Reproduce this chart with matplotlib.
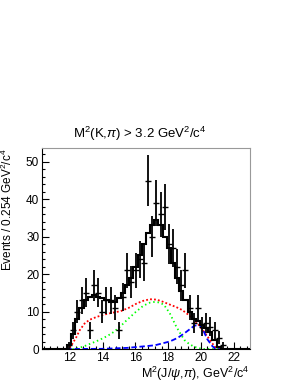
import numpy as np
import matplotlib
matplotlib.use("Agg")
import matplotlib.pyplot as plt
from matplotlib.ticker import MultipleLocator

plt.rcParams["font.family"] = ["Liberation Sans", "DejaVu Sans"]
plt.rcParams["mathtext.fontset"] = "custom"
plt.rcParams["mathtext.rm"] = "Liberation Sans"
plt.rcParams["mathtext.it"] = "Liberation Sans:italic"

# binning: 50 bins of 0.254 GeV^2/c^4 starting at 10.3
x_lo = 10.3
bin_w = 0.254
n_bins = 50

# data counts per bin
counts = [0, 0, 0, 0, 0, 0, 1, 5, 10, 13,
          15, 5, 17, 15, 10, 13, 13, 11, 5, 14,
          21, 18, 21, 24, 23, 45, 30, 39, 36, 38,
          28, 27, 22, 17, 21, 11, 7, 11, 6, 7,
          6, 5, 3, 1, 0, 0, 0, 0, 0, 0]

# total fit, per bin
fit_total = [0, 0, 0, 0, 0, 0, 1, 4, 8, 11,
             13, 14, 14.5, 14, 13.5, 13, 12.5, 12.5, 13.5, 15,
             17, 19, 22, 25, 28, 31, 33, 34.5, 33, 30,
             27, 23, 19, 15.5, 13, 10, 8, 7.5, 6.5, 5.5,
             4.5, 2.5, 0.5, 0, 0, 0, 0, 0, 0, 0]

# fit components
red_x = [10.3, 11.9, 12.1, 12.4, 12.6, 12.9, 13.2, 13.65, 14.2, 14.6, 15.1, 15.6, 16.1, 16.5,
         16.9, 17.3, 17.7, 18.15, 18.5, 18.87, 19.2, 19.6, 19.9, 20.2, 20.5, 20.7, 20.9, 21.0, 23.0]
red_y = [0, 0, 1, 3.2, 5, 6.8, 7.8, 8.6, 9.3, 9.7, 10.1, 11, 12.2, 12.9,
         13.3, 13.2, 12.6, 11.8, 11.2, 10.4, 9.3, 7.8, 6.3, 4.6, 2.8, 1.5, 0.5, 0, 0]

green_x = [10.3, 12.3, 12.8, 13.3, 13.8, 14.3, 14.7, 15.1, 15.5, 16.0, 16.5, 16.9, 17.2, 17.5,
           17.75, 18.1, 18.5, 18.8, 19.0, 19.3, 19.6, 19.9, 20.2, 23.0]
green_y = [0, 0, 0.6, 1.5, 2.4, 3.5, 4.6, 6.1, 7.8, 9.8, 11.6, 12.4, 12.6, 12.4,
           11.8, 9.6, 6.0, 3.8, 2.4, 1.3, 0.6, 0.2, 0, 0]

blue_x = [10.3, 12.0, 14.0, 15.5, 16.5, 17.2, 18.1, 18.6, 19.0, 19.3, 19.6, 19.9, 20.1,
          20.4, 20.7, 20.9, 23.0]
blue_y = [0, 0, 0.05, 0.3, 0.7, 1.0, 2.0, 3.0, 4.2, 5.2, 6.2, 6.5, 5.5,
          2.6, 0.8, 0, 0]

edges = x_lo + bin_w * np.arange(n_bins + 1)
centers = 0.5 * (edges[:-1] + edges[1:])
counts = np.array(counts, dtype=float)
fit_total = np.array(fit_total, dtype=float)

fig = plt.figure(figsize=(3.0, 3.88), dpi=100)
ax = fig.add_axes([0.14, 0.1005, 0.693, 0.518])

# fit components
ax.plot(red_x, red_y, color="#ff0000", lw=1.3, ls=(0, (1, 1.2)), zorder=2)
ax.plot(green_x, green_y, color="#00ff00", lw=1.3, ls=(0, (0.8, 1.6)), zorder=2)
ax.plot(blue_x, blue_y, color="#0000ff", lw=1.3, ls=(0, (3, 1.5)), zorder=2)

# total fit histogram
ax.stairs(fit_total, edges, color="black", lw=1.5, zorder=3)

# data points
mask = counts > 0
ax.errorbar(centers[mask], counts[mask], yerr=np.sqrt(counts[mask]),
            fmt="_", color="black", ms=4, mew=1.0, elinewidth=1.3, capsize=0, zorder=4)

ax.set_xlim(x_lo, edges[-1])
ax.set_ylim(0, 53.7)
ax.xaxis.set_major_locator(MultipleLocator(2))
ax.xaxis.set_minor_locator(MultipleLocator(0.4))
ax.yaxis.set_major_locator(MultipleLocator(10))
ax.yaxis.set_minor_locator(MultipleLocator(2))
ax.tick_params(which="both", direction="in", top=False, right=False, labelsize=8.5, pad=2)
ax.tick_params(which="major", length=5, width=0.8)
ax.tick_params(which="minor", length=2.5, width=0.8)
for side in ("top", "right"):
    ax.spines[side].set_color("#999999")
    ax.spines[side].set_linewidth(0.8)

ax.set_title(r"M$^{2}$(K,$\pi$) > 3.2 GeV$^{2}$/c$^{4}$", fontsize=9.5, pad=7, x=0.47)
ax.set_ylabel(r"Events / 0.254 GeV$^{2}$/c$^{4}$", fontsize=8.5, ha="right")
ax.yaxis.set_label_coords(-0.13, 1.0)
ax.set_xlabel(r"M$^{2}$(J/$\psi$,$\pi$), GeV$^{2}$/c$^{4}$", fontsize=9, ha="right", labelpad=0)
ax.xaxis.set_label_coords(1.0, -0.08)

fig.savefig("out.png", dpi=100)
